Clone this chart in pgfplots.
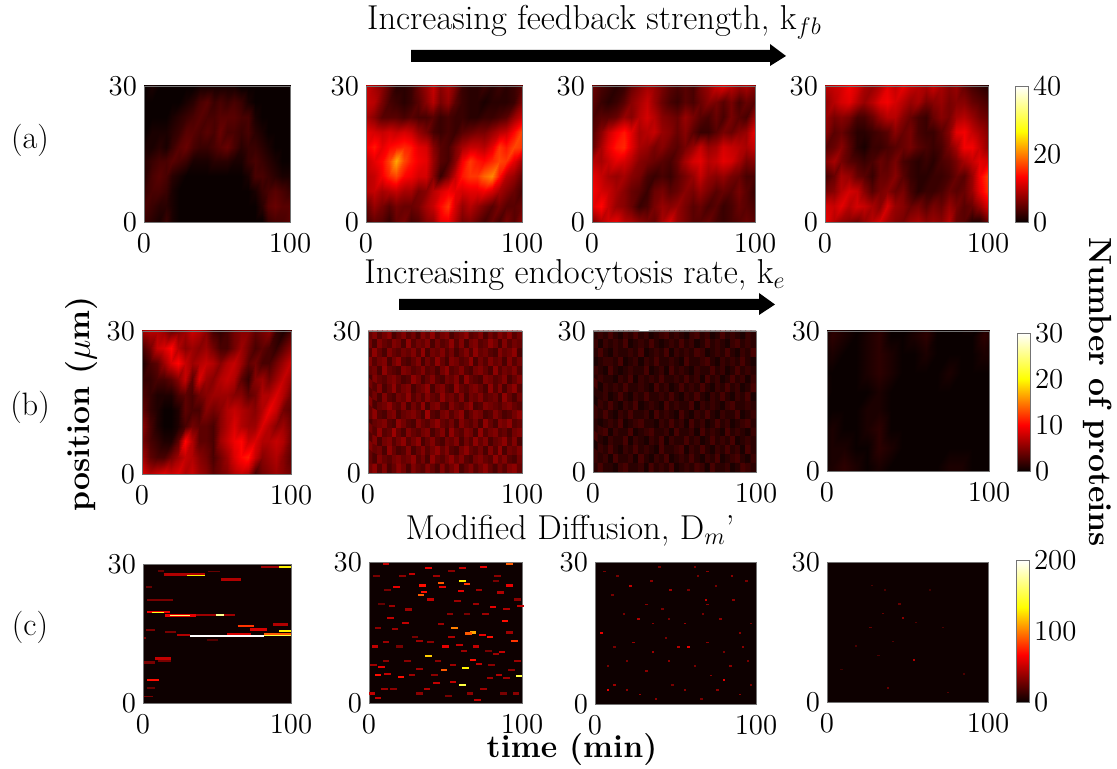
\documentclass[border=0pt]{standalone}
\usepackage{pgfplots}
\pgfplotsset{compat=1.18}
\pgfplotsset{
  colormap={hotm}{rgb255=(10,0,0) rgb255=(255,0,0) rgb255=(255,255,0) rgb255=(255,255,255)},
  pnl/.style={scale only axis,anchor=south west,xmin=0,xmax=100,ymin=0,ymax=30,xtick={0,100},ytick={0,30},
    tick style={draw=none},axis line style={draw=black!55,line width=0.4pt},colormap name=hotm,axis on top,
    tick label style={font=\Large},xticklabel style={yshift=-2.5pt},
    axis background/.style={fill=black!95!red}},
  cbar/.style 2 args={colorbar,colorbar style={at={(parent axis.south east)},anchor=south west,xshift=#1*0.5pt,
    width=6.5pt,height=#2*0.5pt,tick style={draw=none},axis line style={draw=black!55,line width=0.4pt},
    tick label style={font=\Large},yticklabel style={xshift=-1pt}}},
}
\newcommand\panel[5]{%
  \pgfmathsetlengthmacro\pw{(#2-#1)*0.5}\pgfmathsetlengthmacro\ph{(#4-#3)*0.5}%
  \pgfmathsetlengthmacro\px{#1*0.5}\pgfmathsetlengthmacro\py{(769-#4)*0.5}%
  \begin{axis}[pnl,at={(\px,\py)},width=\pw,height=\ph,#5]}
\def\mf{0.85}
\def\mfa{1.5}
\def\mfb{0.55}
\newcommand\hm[3]{\addplot[surf,shader=interp,mesh/cols=#1,point meta={\thisrowno{0}*\mf}] table[header=false,row sep=\\,
  x expr={-4+mod(\coordindex,#1)*108/(#1-1)},y expr={33-floor(\coordindex/#1)*36/(#2-1)}] {#3};}
\newcommand\hmf[3]{\addplot[matrix plot*,mesh/cols=#1,point meta={\mfa+\thisrowno{0}*\mfb}] table[header=false,row sep=\\,
  x expr={(mod(\coordindex,#1)+0.5)*100/#1},y expr={30-(floor(\coordindex/#1)+0.5)*30/#2}] {#3};}
\newcommand\strk[5]{\addplot[mesh,line width=#5pt,point meta=explicit] coordinates {(#1,#3)[#4] (#2,#3)[#4]};}
\newcommand\spk[3]{\addplot[scatter,only marks,mark=square*,mark size=#1pt,mark options={xscale=#2,draw opacity=0},point meta=\thisrowno{2}] table[header=false,row sep=\\,x index=0,y index=1] {#3};}
\newcommand\tfont{\fontsize{17.28}{19}\selectfont}
\newcommand\lfont{\fontsize{16.2}{18}\selectfont}
\newcommand\bfont{\fontsize{16}{18}\selectfont\bfseries}
\begin{document}
\begin{tikzpicture}
\useasboundingbox (0pt,0pt) rectangle (558.5pt,384.5pt);
% ---------- row a
\panel{144}{290}{86}{222}{point meta min=0,point meta max=40}
\hm{24}{12}{1\\1\\1\\0\\0\\0\\0\\0\\0\\0\\0\\0\\0\\0\\0\\0\\0\\0\\0\\0\\0\\0\\0\\0\\
1\\0\\1\\0\\0\\0\\0\\0\\0\\1\\1\\1\\1\\1\\1\\0\\0\\0\\0\\0\\0\\0\\0\\0\\
0\\0\\0\\0\\0\\0\\0\\1\\2\\4\\5\\3\\4\\3\\4\\3\\1\\0\\0\\0\\0\\0\\0\\0\\
0\\0\\0\\0\\0\\1\\2\\3\\4\\5\\4\\4\\5\\5\\5\\4\\4\\1\\0\\0\\0\\0\\0\\0\\
1\\0\\1\\1\\1\\2\\3\\5\\5\\4\\5\\4\\6\\4\\4\\3\\4\\2\\1\\0\\0\\0\\0\\0\\
2\\1\\1\\2\\1\\3\\5\\6\\4\\3\\3\\4\\5\\6\\4\\2\\3\\3\\2\\1\\0\\0\\0\\0\\
3\\2\\3\\4\\4\\5\\4\\3\\1\\1\\1\\2\\2\\2\\1\\1\\3\\4\\3\\2\\1\\0\\0\\0\\
2\\2\\4\\5\\4\\2\\1\\0\\0\\0\\0\\0\\0\\0\\0\\0\\1\\4\\4\\3\\2\\1\\1\\0\\
2\\3\\4\\4\\3\\1\\0\\0\\0\\0\\0\\0\\0\\0\\0\\0\\0\\1\\3\\4\\5\\4\\3\\2\\
3\\4\\3\\2\\2\\1\\0\\0\\0\\0\\0\\0\\0\\0\\0\\0\\0\\0\\2\\5\\6\\5\\5\\4\\
2\\3\\2\\1\\3\\1\\0\\0\\0\\0\\0\\0\\0\\0\\0\\0\\0\\0\\0\\3\\4\\4\\5\\4\\
1\\2\\1\\1\\3\\1\\0\\0\\0\\0\\0\\0\\0\\0\\0\\0\\0\\0\\0\\1\\2\\2\\3\\3\\}
\end{axis}
\panel{366}{522}{86}{222}{point meta min=0,point meta max=40}
\hm{24}{12}{12\\11\\9\\10\\6\\4\\3\\4\\7\\8\\11\\12\\9\\8\\5\\4\\5\\4\\6\\5\\4\\7\\8\\12\\
11\\12\\10\\8\\5\\2\\2\\3\\6\\9\\12\\8\\10\\7\\3\\2\\2\\3\\2\\3\\2\\3\\5\\9\\
10\\12\\11\\7\\4\\3\\2\\3\\5\\8\\11\\7\\9\\5\\3\\2\\2\\1\\2\\2\\2\\3\\7\\10\\
9\\10\\8\\5\\5\\5\\4\\5\\4\\4\\5\\3\\4\\3\\3\\2\\2\\3\\3\\4\\5\\9\\12\\13\\
12\\14\\13\\12\\13\\12\\13\\12\\9\\7\\4\\3\\4\\3\\5\\6\\7\\7\\9\\11\\12\\16\\20\\15\\
13\\15\\17\\14\\16\\17\\18\\17\\14\\13\\8\\5\\4\\7\\10\\12\\12\\11\\14\\19\\17\\20\\19\\13\\
10\\12\\14\\16\\20\\26\\20\\17\\15\\14\\9\\5\\4\\8\\15\\19\\17\\16\\18\\20\\19\\14\\10\\8\\
9\\11\\12\\15\\18\\20\\16\\15\\13\\13\\8\\3\\7\\12\\17\\19\\19\\22\\24\\17\\11\\9\\6\\5\\
8\\11\\12\\10\\11\\12\\10\\10\\7\\8\\11\\13\\15\\14\\13\\14\\14\\15\\13\\10\\8\\6\\4\\4\\
4\\6\\9\\7\\5\\7\\6\\6\\7\\10\\12\\16\\19\\13\\9\\11\\9\\7\\5\\7\\5\\5\\6\\5\\
5\\4\\6\\5\\3\\6\\7\\4\\5\\8\\9\\14\\15\\11\\7\\8\\6\\4\\6\\4\\7\\5\\8\\6\\
8\\6\\5\\7\\6\\8\\9\\6\\5\\9\\8\\9\\8\\9\\10\\9\\6\\4\\8\\5\\9\\8\\10\\11\\}
\end{axis}
\panel{592}{755}{86}{222}{point meta min=0,point meta max=40}
\hm{24}{12}{10\\8\\4\\3\\2\\3\\7\\9\\12\\13\\10\\8\\5\\7\\9\\8\\10\\15\\15\\16\\14\\15\\14\\13\\
10\\6\\4\\3\\2\\3\\6\\8\\10\\9\\7\\5\\4\\5\\4\\7\\9\\12\\13\\11\\9\\10\\8\\9\\
6\\5\\3\\2\\3\\5\\8\\10\\12\\9\\6\\4\\3\\5\\4\\6\\8\\7\\5\\7\\4\\6\\5\\7\\
5\\4\\5\\5\\6\\9\\8\\11\\13\\11\\8\\7\\6\\9\\7\\5\\4\\6\\4\\7\\5\\4\\9\\12\\
6\\5\\8\\12\\15\\17\\14\\10\\11\\12\\9\\8\\6\\8\\5\\3\\3\\5\\7\\6\\8\\9\\14\\15\\
3\\6\\10\\14\\17\\18\\14\\10\\9\\7\\8\\6\\5\\7\\9\\12\\9\\10\\13\\12\\11\\10\\12\\14\\
9\\11\\10\\12\\14\\13\\11\\8\\7\\6\\5\\4\\6\\10\\13\\14\\11\\12\\14\\13\\10\\7\\8\\5\\
13\\14\\12\\10\\9\\10\\8\\7\\4\\3\\4\\3\\5\\7\\9\\12\\9\\8\\9\\7\\6\\4\\4\\3\\
14\\15\\13\\12\\10\\8\\6\\5\\3\\6\\7\\5\\6\\8\\7\\9\\7\\5\\6\\5\\7\\5\\3\\3\\
11\\14\\16\\12\\9\\8\\6\\3\\4\\7\\9\\8\\9\\7\\5\\6\\4\\5\\3\\4\\6\\5\\4\\4\\
5\\8\\11\\13\\14\\11\\10\\8\\7\\6\\10\\13\\9\\7\\5\\5\\6\\4\\3\\4\\5\\6\\5\\5\\
3\\3\\4\\7\\9\\7\\9\\11\\8\\7\\9\\12\\10\\9\\8\\13\\11\\9\\7\\10\\11\\8\\7\\6\\}
\end{axis}
\panel{825}{988}{86}{222}{point meta min=0,point meta max=40,cbar={10}{136},colorbar style={ytick={0,20,40}}}
\hm{24}{12}{8\\10\\9\\12\\13\\11\\10\\8\\10\\13\\14\\12\\13\\15\\12\\11\\9\\7\\6\\7\\5\\3\\2\\2\\
9\\11\\12\\13\\15\\13\\10\\9\\11\\14\\12\\14\\12\\11\\10\\12\\10\\8\\9\\6\\4\\3\\2\\2\\
8\\9\\11\\13\\14\\11\\9\\11\\14\\15\\13\\11\\9\\10\\7\\8\\9\\7\\8\\8\\6\\5\\4\\3\\
10\\9\\7\\8\\7\\4\\4\\6\\9\\11\\11\\8\\6\\4\\3\\6\\8\\7\\10\\11\\9\\7\\6\\5\\
9\\8\\5\\6\\4\\2\\2\\3\\4\\5\\8\\6\\7\\4\\3\\3\\5\\8\\14\\15\\12\\10\\8\\6\\
7\\5\\6\\8\\5\\2\\1\\3\\3\\4\\5\\6\\7\\5\\4\\3\\4\\7\\10\\15\\15\\12\\9\\4\\
6\\8\\10\\7\\5\\4\\3\\4\\6\\5\\7\\4\\3\\2\\3\\2\\4\\5\\7\\10\\12\\14\\13\\9\\
6\\4\\6\\10\\9\\6\\5\\3\\6\\6\\8\\5\\3\\2\\2\\3\\3\\4\\6\\5\\9\\15\\19\\17\\
9\\7\\8\\11\\13\\12\\8\\5\\7\\8\\6\\7\\4\\2\\3\\3\\4\\6\\5\\6\\9\\14\\18\\22\\
14\\13\\12\\14\\11\\13\\12\\10\\8\\13\\9\\8\\6\\7\\5\\7\\6\\9\\7\\5\\6\\9\\13\\20\\
15\\14\\11\\9\\8\\7\\9\\11\\13\\10\\8\\7\\9\\10\\8\\9\\8\\11\\6\\5\\2\\2\\6\\12\\
10\\9\\8\\7\\5\\5\\6\\8\\10\\14\\11\\12\\16\\22\\14\\13\\10\\6\\4\\3\\1\\1\\5\\6\\}
\end{axis}
% ---------- row b
\panel{142}{291}{331}{474}{point meta min=0,point meta max=30}
\hm{24}{12}{7\\9\\11\\10\\8\\6\\7\\7\\8\\9\\7\\4\\3\\4\\3\\5\\7\\6\\8\\7\\4\\3\\3\\4\\
6\\7\\8\\8\\7\\5\\6\\7\\9\\8\\6\\3\\2\\3\\5\\6\\6\\4\\5\\6\\2\\1\\3\\5\\
2\\3\\5\\9\\10\\12\\8\\6\\7\\6\\7\\5\\3\\3\\5\\7\\5\\3\\4\\3\\2\\4\\6\\8\\
2\\1\\3\\4\\7\\10\\12\\9\\7\\8\\9\\8\\6\\8\\9\\7\\4\\5\\3\\3\\5\\7\\9\\8\\
3\\2\\2\\3\\3\\4\\6\\9\\4\\10\\7\\6\\8\\9\\8\\4\\2\\6\\7\\5\\7\\9\\7\\3\\
5\\3\\2\\1\\1\\1\\3\\4\\3\\5\\6\\7\\7\\7\\6\\6\\4\\5\\8\\8\\10\\8\\5\\3\\
6\\4\\2\\1\\0\\0\\1\\4\\3\\3\\6\\5\\6\\8\\9\\8\\7\\6\\8\\11\\9\\5\\4\\2\\
8\\6\\3\\1\\0\\0\\1\\3\\5\\4\\4\\3\\6\\8\\10\\8\\7\\7\\10\\8\\6\\7\\5\\3\\
9\\5\\3\\2\\1\\1\\4\\12\\8\\4\\4\\3\\7\\9\\11\\12\\9\\10\\8\\8\\9\\8\\5\\5\\
6\\7\\4\\3\\3\\5\\7\\9\\8\\6\\5\\3\\5\\7\\10\\12\\13\\9\\6\\7\\8\\6\\4\\4\\
7\\10\\8\\9\\10\\9\\10\\8\\9\\7\\6\\4\\5\\6\\8\\9\\8\\3\\5\\6\\7\\6\\5\\5\\
9\\7\\8\\10\\9\\8\\9\\8\\8\\9\\6\\5\\5\\4\\6\\7\\3\\2\\6\\5\\6\\7\\8\\6\\}
\end{axis}
\panel{368}{522}{331}{473}{point meta min=0,point meta max=30}
\hmf{32}{16}{4\\6\\3\\5\\7\\2\\4\\6\\3\\5\\2\\6\\4\\7\\3\\5\\6\\2\\4\\5\\7\\3\\4\\6\\2\\5\\3\\6\\4\\7\\3\\5\\
5\\2\\6\\4\\3\\6\\5\\2\\7\\3\\5\\4\\6\\2\\5\\3\\4\\7\\3\\6\\2\\5\\6\\3\\4\\7\\5\\2\\6\\3\\5\\4\\
3\\7\\4\\2\\6\\4\\3\\5\\4\\6\\3\\7\\2\\5\\4\\6\\3\\5\\2\\4\\6\\3\\7\\4\\5\\3\\2\\6\\4\\5\\7\\2\\
6\\3\\5\\6\\2\\5\\7\\3\\2\\4\\6\\2\\5\\3\\7\\4\\2\\6\\5\\3\\4\\7\\2\\5\\3\\6\\4\\5\\2\\6\\3\\5\\
4\\5\\2\\7\\4\\3\\2\\6\\5\\3\\4\\6\\3\\4\\2\\5\\7\\3\\4\\6\\3\\2\\5\\6\\4\\2\\7\\3\\5\\4\\6\\3\\
2\\6\\4\\3\\5\\6\\4\\2\\3\\7\\5\\2\\4\\6\\3\\2\\5\\4\\6\\2\\7\\4\\3\\2\\6\\5\\3\\4\\6\\2\\4\\6\\
5\\3\\6\\2\\4\\7\\3\\5\\6\\2\\4\\5\\7\\2\\5\\6\\3\\2\\7\\4\\3\\5\\6\\4\\2\\7\\3\\6\\2\\5\\7\\3\\
3\\5\\2\\6\\3\\2\\5\\4\\7\\3\\5\\3\\6\\4\\3\\7\\4\\5\\3\\6\\2\\5\\4\\6\\3\\4\\5\\2\\7\\4\\2\\5\\
6\\2\\4\\5\\7\\4\\3\\6\\2\\5\\3\\7\\2\\5\\6\\3\\2\\6\\4\\3\\5\\7\\2\\3\\6\\5\\4\\3\\5\\6\\4\\3\\
4\\7\\3\\2\\5\\6\\2\\4\\5\\6\\4\\2\\8\\3\\2\\5\\6\\3\\5\\7\\2\\4\\6\\5\\2\\3\\6\\4\\2\\3\\5\\7\\
2\\4\\5\\6\\3\\2\\7\\5\\3\\2\\6\\4\\3\\5\\7\\4\\3\\5\\2\\6\\4\\3\\5\\2\\7\\4\\2\\6\\5\\7\\3\\4\\
5\\3\\7\\3\\4\\8\\4\\2\\6\\4\\3\\5\\6\\2\\4\\6\\2\\7\\4\\3\\6\\5\\2\\7\\3\\5\\6\\3\\4\\2\\5\\6\\
3\\6\\2\\5\\6\\3\\5\\7\\3\\5\\7\\2\\4\\6\\3\\2\\5\\4\\6\\2\\5\\3\\7\\4\\6\\2\\4\\5\\7\\3\\6\\2\\
6\\4\\5\\2\\7\\4\\2\\3\\6\\2\\4\\6\\3\\5\\7\\4\\6\\3\\2\\5\\7\\4\\3\\5\\2\\6\\3\\7\\2\\5\\4\\6\\
4\\2\\6\\4\\3\\5\\6\\4\\5\\7\\3\\5\\2\\7\\4\\3\\5\\7\\4\\6\\3\\2\\5\\6\\4\\3\\7\\4\\6\\3\\2\\5\\
5\\7\\3\\6\\2\\4\\7\\5\\2\\6\\4\\3\\6\\4\\2\\6\\3\\5\\7\\2\\4\\6\\3\\5\\7\\4\\2\\5\\3\\6\\7\\4\\}
\end{axis}
\def\mfa{0.7}\def\mfb{0.6}
\panel{593}{756}{331}{472}{point meta min=0,point meta max=30}
\hmf{32}{16}{1\\2\\1\\3\\1\\0\\2\\1\\3\\1\\2\\0\\1\\2\\3\\1\\2\\1\\0\\2\\3\\1\\2\\0\\1\\3\\1\\2\\1\\0\\2\\1\\
2\\0\\2\\1\\2\\1\\3\\0\\1\\2\\1\\3\\1\\0\\1\\2\\1\\3\\1\\2\\0\\1\\3\\1\\2\\1\\0\\2\\3\\1\\2\\1\\
1\\3\\1\\0\\2\\1\\1\\2\\1\\3\\0\\1\\2\\1\\3\\0\\2\\1\\2\\1\\3\\2\\0\\1\\2\\1\\3\\1\\0\\2\\1\\3\\
0\\1\\2\\2\\1\\3\\0\\1\\2\\0\\2\\1\\3\\1\\1\\2\\1\\0\\3\\1\\1\\2\\3\\1\\0\\2\\1\\2\\1\\3\\1\\0\\
2\\1\\0\\3\\1\\0\\1\\2\\1\\1\\3\\0\\1\\2\\0\\3\\1\\2\\1\\0\\2\\1\\1\\3\\1\\2\\0\\1\\3\\1\\2\\1\\
1\\2\\1\\1\\0\\2\\1\\3\\0\\2\\1\\2\\1\\3\\1\\1\\2\\1\\3\\1\\2\\0\\3\\1\\2\\0\\1\\3\\1\\2\\0\\2\\
3\\0\\2\\1\\2\\1\\3\\1\\1\\2\\1\\0\\3\\1\\2\\0\\1\\3\\1\\2\\1\\3\\1\\0\\2\\1\\3\\1\\2\\0\\1\\3\\
1\\1\\2\\0\\1\\3\\1\\0\\2\\1\\3\\1\\1\\2\\1\\3\\1\\0\\2\\1\\3\\1\\0\\2\\1\\3\\1\\0\\2\\1\\3\\0\\
0\\2\\1\\3\\1\\0\\2\\1\\3\\0\\1\\2\\1\\0\\3\\1\\2\\1\\1\\3\\0\\2\\1\\2\\1\\0\\2\\3\\1\\1\\2\\1\\
2\\1\\3\\1\\0\\2\\1\\3\\1\\1\\2\\0\\3\\1\\2\\1\\0\\3\\1\\0\\2\\1\\3\\1\\0\\2\\1\\1\\3\\0\\1\\2\\
1\\0\\1\\2\\1\\3\\0\\1\\2\\3\\1\\1\\0\\2\\1\\3\\1\\2\\0\\3\\1\\2\\0\\1\\3\\1\\2\\0\\1\\2\\3\\1\\
1\\2\\3\\0\\2\\1\\1\\3\\0\\1\\2\\3\\1\\1\\2\\0\\3\\1\\1\\2\\0\\3\\1\\2\\1\\0\\3\\1\\2\\1\\0\\2\\
3\\1\\0\\2\\1\\1\\3\\0\\2\\1\\0\\2\\1\\3\\0\\2\\1\\1\\3\\1\\2\\0\\1\\3\\1\\2\\1\\3\\0\\1\\2\\1\\
0\\2\\1\\3\\1\\0\\2\\1\\3\\1\\2\\1\\0\\3\\1\\1\\2\\3\\0\\2\\1\\3\\1\\0\\2\\1\\3\\1\\2\\0\\3\\1\\
2\\1\\2\\0\\3\\1\\1\\2\\0\\3\\1\\0\\2\\1\\3\\0\\1\\2\\1\\3\\1\\0\\2\\1\\3\\0\\1\\2\\3\\1\\0\\2\\
1\\3\\1\\1\\0\\2\\3\\1\\1\\2\\0\\3\\1\\2\\1\\3\\0\\1\\2\\1\\3\\2\\0\\3\\1\\1\\2\\0\\1\\3\\2\\1\\}
\end{axis}
\def\mf{0.7}
\panel{827}{989}{331}{471}{point meta min=0,point meta max=30,cbar={11}{138},colorbar style={ytick={0,10,20,30}}}
\hm{16}{10}{0\\1\\1\\0\\0\\1\\0\\0\\0\\1\\0\\0\\0\\1\\0\\0\\
0\\2\\1\\0\\1\\2\\0\\0\\1\\2\\0\\0\\0\\0\\2\\1\\
0\\1\\0\\0\\1\\2\\1\\0\\0\\1\\0\\0\\0\\0\\1\\1\\
0\\0\\0\\0\\1\\2\\1\\0\\0\\0\\0\\1\\0\\0\\0\\0\\
1\\0\\0\\0\\0\\1\\0\\0\\0\\0\\0\\0\\0\\0\\0\\0\\
0\\0\\0\\0\\1\\1\\0\\0\\0\\0\\0\\0\\0\\0\\0\\0\\
0\\1\\0\\0\\1\\2\\0\\0\\0\\0\\0\\0\\0\\0\\0\\0\\
0\\1\\1\\0\\0\\2\\1\\0\\0\\0\\0\\0\\0\\0\\0\\0\\
0\\1\\2\\1\\0\\1\\0\\0\\0\\0\\0\\1\\1\\0\\0\\0\\
1\\1\\2\\1\\0\\0\\0\\0\\0\\0\\0\\1\\1\\0\\0\\0\\}
\end{axis}
% ---------- row c
\panel{143}{291}{564}{703}{point meta min=0,point meta max=200}
\strk{14}{42}{27.7}{45}{1.3}\strk{30}{42}{27.6}{130}{0.6}\strk{53}{66}{26.6}{45}{1.3}\strk{80}{100}{29.4}{40}{0.8}\strk{92}{100}{29.4}{130}{0.8}
\strk{3}{20}{22.3}{30}{1}\strk{3}{18}{19.6}{60}{1.3}\strk{6}{14}{19.6}{140}{0.6}\strk{15}{36}{18.9}{60}{1.1}\strk{18}{32}{18.9}{160}{0.55}
\strk{36}{62}{19}{40}{1}\strk{49}{55}{19}{170}{0.6}\strk{64}{75}{16.7}{80}{1}\strk{72}{84}{15.8}{55}{1.3}\strk{88}{98}{17}{45}{1.6}
\strk{23}{32}{14.7}{45}{1}\strk{57}{73}{14.9}{55}{1.1}\strk{82}{100}{14.8}{90}{1.5}\strk{92}{100}{15.5}{130}{0.7}\strk{32}{82}{14.5}{200}{0.7}
\strk{82}{100}{14.6}{150}{0.7}\strk{2}{8}{15.8}{30}{1.1}\strk{15}{22}{15.3}{30}{0.8}\strk{0}{2}{14}{30}{0.8}\strk{8}{19}{9.6}{50}{1.1}
\strk{1}{8}{8.7}{30}{1.3}\strk{10}{19}{9}{30}{1}\strk{3}{11}{5}{70}{1.1}\strk{3}{8}{3.2}{25}{0.8}\strk{1}{7}{1.4}{30}{0.8}
\strk{2}{6}{25}{25}{1.2}\strk{10}{14}{28.5}{25}{0.8}\strk{44}{52}{28.4}{25}{0.8}\strk{43}{51}{13.6}{20}{0.8}
\end{axis}
\panel{369}{522}{562}{703}{point meta min=0,point meta max=200}
\spk{0.55}{3}{11 29.6 50\\39 28.8 60\\61 28.8 50\\92 29.5 90\\75 29 60\\28 27.5 50\\61 26 130\\47 25.6 90\\64 25.4 80\\18 24.6 60\\35 25 70\\48 24.6 60\\92 25 60\\36 23.7 70\\34 23 90\\60 23.9 60\\40 22 50\\58 21.7 40\\70 21 40\\81 20.5 60\\99 20.6 50\\15 20.6 40\\26 19.9 40\\14 18 50\\24 17 50\\17 15.8 40\\47 16.8 40\\56 16 100\\68 15 110\\65 14.8 90\\74 14.5 60\\79 14.1 70\\89 17.5 70\\95 13.2 80\\33 13.2 40\\50 12 60\\59 12.3 50\\11 13 40\\4 12 50\\87 10.8 50\\39 10 120\\83 10.5 40\\33 7.2 40\\68 9.2 70\\72 8.3 50\\49 7 90\\63 7.5 130\\8 7.6 60\\6 5.9 70\\21 5.6 70\\12 6.1 50\\98 5.8 150\\61 3.8 150\\55 4.5 50\\44 4.2 50\\79 5.4 40\\2 2 50\\6 1 50\\71 0.7 50\\90 5.4 40\\5 27 30\\12 24 30\\22 27 35\\44 27 40\\54 28 35\\84 27 35\\72 24 40\\86 23.5 45\\8 21 25\\30 14 30\\6 16 35\\20 12 30\\40 13 35\\54 14 45\\62 11 40\\70 12 50\\78 11 30\\92 15 40\\97 9 40\\93 7 35\\85 6 45\\75 3 40\\66 2 35\\52 1.5 30\\38 3 45\\28 6 40\\16 3 35\\11 9 35\\3 8 40\\25 9 35\\45 9 35\\55 8 40\\80 8 35\\88 2 30\\96 2 35\\10 3 40\\33 2 35\\43 6 35\\53 19 35\\64 19 30\\76 19 40\\90 20 45\\97 22 35\\83 26 30\\}
\end{axis}
\panel{595}{756}{562}{704}{point meta min=0,point meta max=200}
\spk{0.45}{1.4}{6 28 30\\14 27 30\\22 25 50\\35 26 35\\47 24 40\\62 29 30\\64 27 30\\70 28 35\\85 27 35\\94 26 30\\11 23 30\\32 21 35\\42 20 30\\69 22 50\\70 21 35\\86 22 35\\4 15 60\\18 19 30\\27 18 45\\36 17 35\\46 18 30\\56 17 40\\67 19 30\\78 18 35\\90 15 35\\97 17 30\\12 12 30\\24 13 40\\36 11 40\\44 14 30\\52 12 45\\58 12 60\\70 13 35\\80 11 30\\92 12 35\\8 8 30\\20 9 30\\32 7 35\\46 9 35\\62 8 30\\72 6 35\\84 8 35\\95 9 30\\8 3 60\\12 4 40\\20 3 35\\28 2 40\\38 1 35\\48 4 30\\56 3 35\\66 1 30\\76 3 35\\80 5 60\\90 2 35\\97 4 30\\40 29 30\\75 25 30\\58 24 30\\}
\end{axis}
\panel{827}{988}{562}{702}{point meta min=0,point meta max=200,cbar={11}{142},colorbar style={ytick={0,100,200}}}
\spk{0.4}{1.3}{35 19 25\\45 21 25\\47 18 35\\55 17 20\\27 16 25\\18 12 18\\41 13 20\\54 9 45\\72 16 18\\38 3 25\\75 2 20\\85 6 18\\28 25 18\\36 24 18\\64 24 15\\9 7 15\\32 10 18\\}
\end{axis}
% ---------- texts
\begin{scope}[x=0.5pt,y=-0.5pt,yshift=384.5pt]
\node[font=\tfont] at (594.5,22) {Increasing feedback strength, k$_{fb}$};
\node[font=\tfont] at (575,275) {Increasing endocytosis rate, k$_e$};
\node[font=\tfont] at (570,531) {Modified Diffusion, D$_m$'};
\node[font=\lfont] at (30,140) {(a)};
\node[font=\lfont] at (30,407) {(b)};
\node[font=\lfont] at (30,627) {(c)};
\node[font=\bfont,rotate=90] at (82,404) {position ($\mu$m)};
\node[font=\bfont,rotate=-90] at (1098,392) {Number of proteins};
\node[font=\bfont] at (572,750) {time (min)};
\fill (411,50)--(770,50)--(770,44)--(786,56)--(770,66)--(770,62)--(411,62)--cycle;
\fill (399,299)--(759,299)--(759,293)--(775,304.5)--(759,315)--(759,310)--(399,310)--cycle;
\end{scope}
\end{tikzpicture}
\end{document}
